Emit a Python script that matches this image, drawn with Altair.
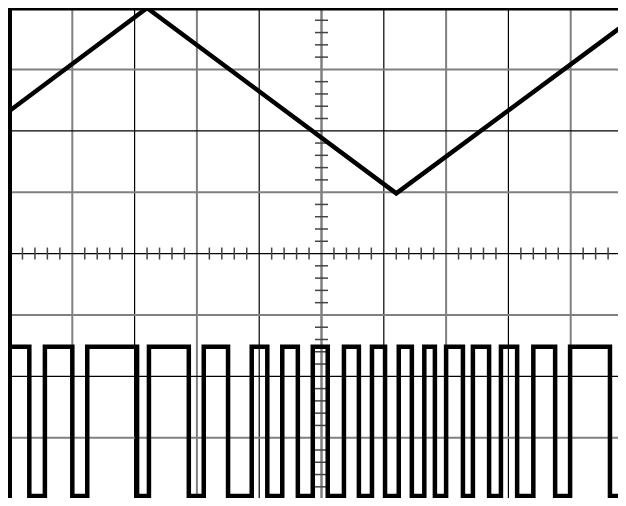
import altair as alt
import pandas as pd

# ---- values read from the screen (units: screen divisions) ----
# triangle trace vertices
tri_x = [0.0, 2.20, 6.20, 9.89]
tri_y = [6.33, 8.0, 4.98, 7.75]

# square-wave trace: start of each segment and its level
sq_x = [0.0, 0.31, 0.56, 1.00, 1.24, 2.04, 2.23, 2.87, 3.11, 3.50, 3.88, 4.13,
        4.37, 4.62, 4.86, 5.10, 5.36, 5.60, 5.81, 6.02, 6.24, 6.45, 6.65, 6.82,
        7.00, 7.27, 7.43, 7.69, 7.88, 8.14, 8.40, 8.75, 8.99, 9.63, 9.82, 9.89]
sq_y = [2.48, 0.05, 2.48, 0.05, 2.48, 0.05, 2.48, 0.05, 2.48, 0.05, 2.48, 0.05,
        2.48, 0.05, 2.48, 0.05, 2.48, 0.05, 2.48, 0.05, 2.48, 0.05, 2.48, 0.05,
        2.48, 0.05, 2.48, 0.05, 2.48, 0.05, 2.48, 0.05, 2.48, 0.05, 2.48, 2.48]

# graticule lines
gray_vx = [1, 3, 7, 9]
black_vx = [2, 4, 6, 8]
center_vx = [5]
gray_hy = [1, 3, 5, 7]
black_hy = [2, 4, 6]
minor_x = [round(i * 0.2, 2) for i in range(1, 50) if i % 5]
minor_y = [round(i * 0.2, 2) for i in range(1, 40) if i % 5]

xs = alt.Scale(domain=[0, 9.759], nice=False, zero=False)
ys = alt.Scale(domain=[0.018, 8], nice=False, zero=False)


def X(f="x"):
    return alt.X(f"{f}:Q", scale=xs, axis=None)


def Y(f="y"):
    return alt.Y(f"{f}:Q", scale=ys, axis=None)


def vrule(vals, color, w):
    return alt.Chart(pd.DataFrame({"x": vals})).mark_rule(
        color=color, strokeWidth=w).encode(x=X())


def hrule(vals, color, w):
    return alt.Chart(pd.DataFrame({"y": vals})).mark_rule(
        color=color, strokeWidth=w).encode(y=Y())


mx = pd.DataFrame({"x": minor_x, "y": [4] * len(minor_x)})
my = pd.DataFrame({"x": [5] * len(minor_y), "y": minor_y})

ticks_h = alt.Chart(mx).mark_tick(orient="vertical", size=12, thickness=1.5,
                                  color="#444444", opacity=1).encode(x=X(), y=Y())
ticks_v = alt.Chart(my).mark_tick(orient="horizontal", size=13, thickness=1.5,
                                  color="#444444", opacity=1).encode(x=X(), y=Y())

tri = pd.DataFrame({"x": tri_x, "y": tri_y, "i": range(len(tri_x))})
sq = pd.DataFrame({"x": sq_x, "y": sq_y, "i": range(len(sq_x))})

tri_line = alt.Chart(tri).mark_line(color="black", strokeWidth=4.5, clip=True).encode(
    x=X(), y=Y(), order="i:Q")
sq_line = alt.Chart(sq).mark_line(color="black", strokeWidth=4.5,
                                  interpolate="step-after",
                                  strokeJoin="miter", clip=True).encode(
    x=X(), y=Y(), order="i:Q")

chart = alt.layer(
    vrule(gray_vx, "#808080", 2),
    vrule(black_vx, "#000000", 1.2),
    vrule(center_vx, "#808080", 2.5),
    hrule(gray_hy, "#808080", 2),
    hrule(black_hy, "#000000", 1.2),
    ticks_h, ticks_v,
    vrule([0], "#000000", 4),
    hrule([8], "#000000", 5),
    tri_line, sq_line,
).properties(
    width=608, height=490,
    padding={"left": 2, "top": 0, "right": 0, "bottom": 0},
    autosize=alt.AutoSizeParams(type="none"),
    background="white",
).configure_view(strokeWidth=0)

chart.save("out.html", embed_options={"renderer": "svg", "actions": False})
